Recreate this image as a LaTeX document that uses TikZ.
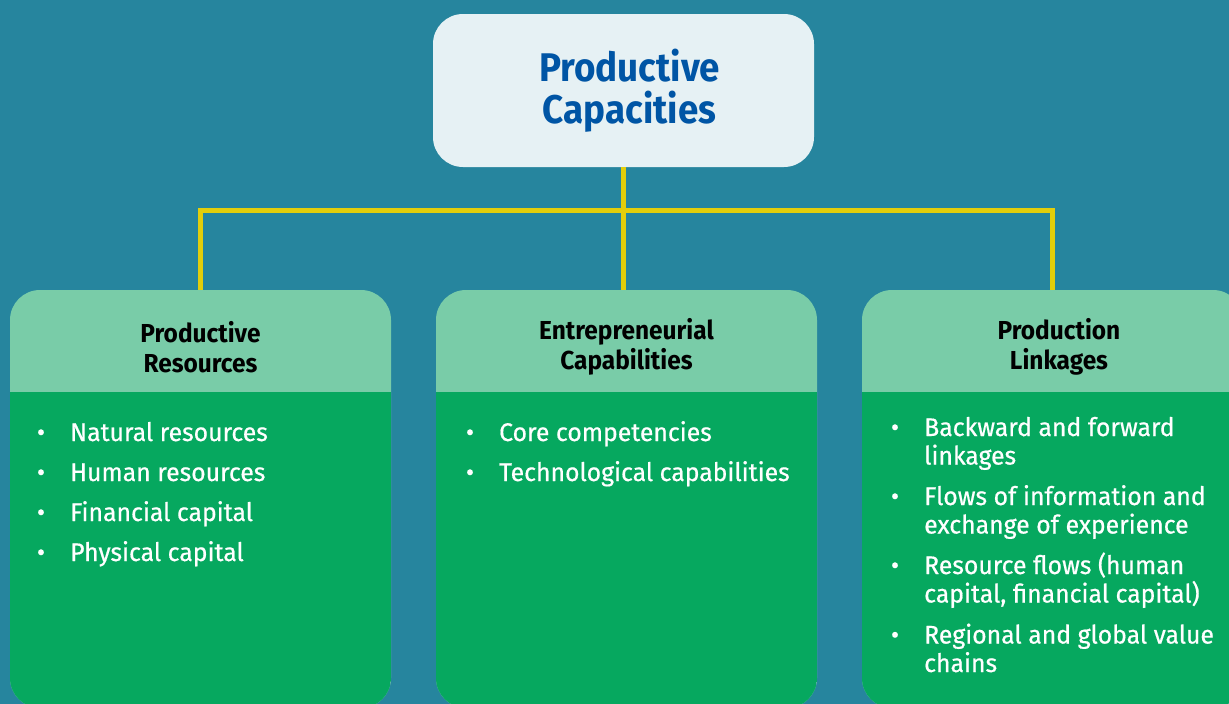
\documentclass[tikz,border=0pt]{standalone}
\usepackage{fontspec}
\setmainfont[FakeStretch=0.972,FakeBold=0.6]{Fira Sans}
\newfontfamily\hdfont[FakeStretch=0.94]{Fira Sans}
\newfontfamily\tpfont[FakeStretch=0.92]{Fira Sans}
\definecolor{bg}{HTML}{26859E}
\definecolor{topfill}{HTML}{E6F1F4}
\definecolor{topink}{HTML}{0055A5}
\definecolor{headc}{HTML}{79CCA8}
\definecolor{bodyc}{HTML}{06A85F}
\definecolor{linkc}{HTML}{E3CE0B}
\begin{document}
\begin{tikzpicture}[x=1pt,y=-1pt,
  topbox/.style={fill=topfill, rounded corners=30pt, minimum width=381pt, minimum height=153pt, inner sep=0pt},
  toptext/.style={inner sep=0pt, text=topink, align=center, font=\tpfont\bfseries\fontsize{40}{42}\selectfont},
  colbox/.style={fill=headc, rounded corners=30pt, minimum width=381pt, minimum height=418pt, inner sep=0pt,
    path picture={\fill[bodyc, sharp corners] (path picture bounding box.south west) rectangle ([yshift=-102pt]path picture bounding box.north east);}},
  head/.style={align=center, inner sep=0pt, text=black, font=\hdfont\bfseries\fontsize{26}{29.5}\selectfont},
  item/.style={anchor=base west, inner sep=0pt, text=white, font=\fontsize{25.5}{28}\selectfont},
  dot/.style={anchor=base, inner sep=0pt, text=white, font=\fontsize{25.5}{28}\selectfont},
  link/.style={draw=linkc, line width=5pt}]
\useasboundingbox (0,0) rectangle (1229,704);
\fill[bg] (0,0) rectangle (1229,704);
\begin{scope}
\clip (0,0) rectangle (1229,704);
\node[topbox] (top) at (623.5,90.5) {};
\node[colbox] (pr) at (200.5,499) {};
\node[colbox] (ec) at (626.5,499) {};
\node[colbox] (pl) at (1052.5,499) {};
\end{scope}
\node[toptext] (toptx) at (629.5,90.5) {Productive\\Capacities};
\coordinate (bar) at (623.5,210);
\draw[link] (top.south) -- (top.south |- ec.north);
\draw[link] (pr.north) |- (bar) -| (pl.north);
% headers
\node[head] (prh) at (200.5,347) {Productive\\Resources};
\node[head] (ech) at (626.5,347) {Entrepreneurial\\Capabilities};
\node[head] (plh) at (1059,347) {Production\\Linkages};
% left items
\node[dot] (prb1) at (41,441) {•}; \node[item] (pri1) at (70,441) {Natural resources};
\node[dot] (prb2) at (41,481) {•}; \node[item] (pri2) at (70,481) {Human resources};
\node[dot] (prb3) at (41,521) {•}; \node[item] (pri3) at (70,521) {Financial capital};
\node[dot] (prb4) at (41,561) {•}; \node[item] (pri4) at (70,561) {Physical capital};
% middle items
\node[dot] (ecb1) at (470,441) {•}; \node[item] (eci1) at (499,441) {Core competencies};
\node[dot] (ecb2) at (470,481) {•}; \node[item] (eci2) at (499,481) {Technological capabilities};
% right items
\node[dot] (plb1) at (895,436) {•}; \node[item] (pli1) at (924,436) {Backward and forward};
\node[item] (pli1b) at (924,464.5) {linkages};
\node[dot] (plb2) at (895,505) {•}; \node[item] (pli2) at (924,505) {Flows of information and};
\node[item] (pli2b) at (924,533.5) {exchange of experience};
\node[dot] (plb3) at (895,574) {•}; \node[item] (pli3) at (924,574) {Resource flows (human};
\node[item] (pli3b) at (924,602.5) {capital, financial capital)};
\node[dot] (plb4) at (895,643.5) {•}; \node[item] (pli4) at (924,643.5) {Regional and global value};
\node[item] (pli4b) at (924,672) {chains};
\end{tikzpicture}
\end{document}
